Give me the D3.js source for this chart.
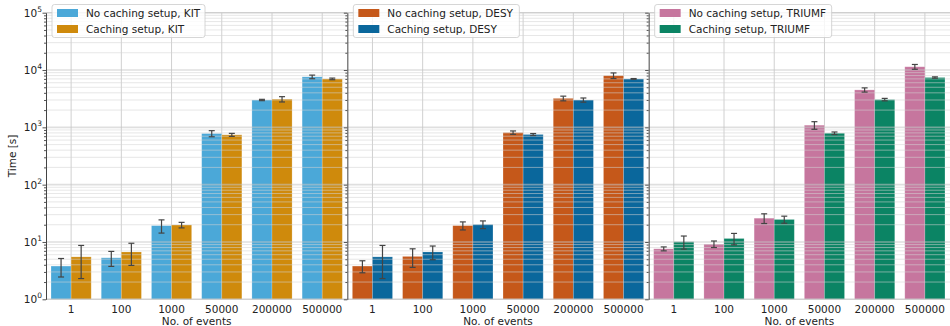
<!DOCTYPE html>
<html>
<head>
<meta charset="utf-8">
<script src="https://cdn.jsdelivr.net/npm/d3@7"></script>
<style>
  body { margin: 0; background: #fff; }
  text { font-family: "DejaVu Sans", sans-serif; fill: #222; }
</style>
</head>
<body>
<div id="chart"></div>
<script>
var w = 950;
var h = 326;
var padLeft = 46, yTop = 12.7, yBottom = 299.3;

//categories
var events = ["1", "100", "1000", "50000", "200000", "500000"];
var sites = ["KIT", "DESY", "TRIUMF"];

//mean times [s]
var kitNoCache   = [3.8, 5.3, 19.3, 780, 3000, 7600];
var kitNoCacheErr = [1.35, 1.55, 5.0, 95, 80, 550];
var kitCache     = [5.5, 6.7, 19.8, 740, 3100, 7000];
var kitCacheErr  = [3.2, 2.8, 2.2, 45, 330, 230];

var desyNoCache    = [3.8, 5.6, 19.3, 810, 3200, 8000];
var desyNoCacheErr = [0.9, 2.0, 3.1, 55, 300, 900];
var desyCache      = [5.5, 6.7, 20.2, 750, 3000, 7000];
var desyCacheErr   = [3.2, 1.8, 3.1, 30, 250, 100];

var triumfNoCache    = [7.6, 9.2, 26, 1090, 4500, 11400];
var triumfNoCacheErr = [0.6, 1.2, 5, 165, 380, 1100];
var triumfCache      = [10.1, 11.5, 24.7, 790, 3050, 7400];
var triumfCacheErr   = [2.6, 2.6, 3.5, 40, 150, 200];

var yTicks = [1, 10, 100, 1000, 10000, 100000];

//one panel per site
var panels = [
  {site: "KIT", series: [
    {label: "No caching setup, KIT", color: "#4ba8d8", vals: kitNoCache, errs: kitNoCacheErr},
    {label: "Caching setup, KIT", color: "#cf8a0c", vals: kitCache, errs: kitCacheErr}]},
  {site: "DESY", series: [
    {label: "No caching setup, DESY", color: "#c5581a", vals: desyNoCache, errs: desyNoCacheErr},
    {label: "Caching setup, DESY", color: "#0a679c", vals: desyCache, errs: desyCacheErr}]},
  {site: "TRIUMF", series: [
    {label: "No caching setup, TRIUMF", color: "#c6769e", vals: triumfNoCache, errs: triumfNoCacheErr},
    {label: "Caching setup, TRIUMF", color: "#0b8464", vals: triumfCache, errs: triumfCacheErr}]}
];

var pw = (w - padLeft) / 3;

var svg = d3.select("#chart").append("svg")
  .attr("width", w)
  .attr("height", h);

var yScale = d3.scaleLog().domain([1, 1e5]).range([yBottom, yTop]);
var allTicks = yScale.ticks();

var xScale = d3.scaleBand().domain(events).range([0, pw]).paddingInner(0.2).paddingOuter(0.1);
var x1 = d3.scaleBand().domain([0, 1]).range([0, xScale.bandwidth()]);

panels.forEach(function(p, pi) {
  var g = svg.append("g").attr("transform", "translate(" + (padLeft + pi * pw) + ",0)");

  //vertical grid
  g.selectAll(".vgrid").data(events).enter().append("line")
    .attr("x1", function(d) { return xScale(d) + xScale.bandwidth() / 2; })
    .attr("x2", function(d) { return xScale(d) + xScale.bandwidth() / 2; })
    .attr("y1", yTop).attr("y2", yBottom)
    .attr("stroke", "#d0d0d0").attr("stroke-width", 1);

  //bars
  p.series.forEach(function(s, si) {
    g.selectAll(".bar" + si).data(events).enter().append("rect")
      .attr("x", function(d) { return xScale(d) + x1(si); })
      .attr("y", function(d, i) { return yScale(s.vals[i]); })
      .attr("width", x1.bandwidth())
      .attr("height", function(d, i) { return yBottom - yScale(s.vals[i]); })
      .attr("fill", s.color)
      .attr("stroke", "#fff").attr("stroke-opacity", 0.25).attr("stroke-width", 0.8);
  });

  //horizontal grid on top of the bars
  g.selectAll(".hgrid").data(allTicks).enter().append("line")
    .attr("x1", 0).attr("x2", pw)
    .attr("y1", function(d) { return yScale(d); })
    .attr("y2", function(d) { return yScale(d); })
    .attr("stroke", function(d) { return yTicks.indexOf(d) >= 0 ? "#c4c4c4" : "#d4d4d4"; })
    .attr("stroke-opacity", 0.55)
    .attr("stroke-width", function(d) { return yTicks.indexOf(d) >= 0 ? 1.6 : 1; });

  //error bars
  p.series.forEach(function(s, si) {
    var eg = g.selectAll(".err" + si).data(events).enter().append("g")
      .attr("stroke", "#444").attr("stroke-width", 1.2);
    var cx = function(d) { return xScale(d) + x1(si) + x1.bandwidth() / 2; };
    eg.append("line")
      .attr("x1", cx).attr("x2", cx)
      .attr("y1", function(d, i) { return yScale(s.vals[i] + s.errs[i]); })
      .attr("y2", function(d, i) { return yScale(s.vals[i] - s.errs[i]); });
    [1, -1].forEach(function(sign) {
      eg.append("line")
        .attr("x1", function(d) { return cx(d) - 3; })
        .attr("x2", function(d) { return cx(d) + 3; })
        .attr("y1", function(d, i) { return yScale(s.vals[i] + sign * s.errs[i]); })
        .attr("y2", function(d, i) { return yScale(s.vals[i] + sign * s.errs[i]); });
    });
  });

  //frame
  g.append("line").attr("x1", 0).attr("x2", pw).attr("y1", yTop).attr("y2", yTop)
    .attr("stroke", "#ccc");
  g.append("line").attr("x1", 0).attr("x2", pw).attr("y1", yBottom).attr("y2", yBottom)
    .attr("stroke", "#ccc");

  //y ticks (minor + major), labels only on first panel
  var yAxis = d3.axisLeft(yScale).tickValues(allTicks).tickFormat("")
    .tickSize(2).tickSizeOuter(0);
  var ya = g.append("g").call(yAxis);
  ya.select(".domain").attr("stroke", "#444");
  ya.selectAll(".tick line").attr("stroke", "#555")
    .attr("x2", function(d) { return yTicks.indexOf(d) >= 0 ? -3.5 : -2; });

  if (pi == 0) {
    yTicks.forEach(function(t) {
      var lab = g.append("text")
        .attr("x", -4)
        .attr("y", yScale(t) + 4)
        .attr("text-anchor", "end")
        .attr("font-size", "10.5px");
      lab.append("tspan").text("10");
      lab.append("tspan").text(Math.round(Math.log10(t)))
        .attr("dy", -5).attr("font-size", "7.5px");
    });
  }

  //x tick labels
  g.selectAll(".xlab").data(events).enter().append("text")
    .text(function(d) { return d; })
    .attr("x", function(d) { return xScale(d) + xScale.bandwidth() / 2; })
    .attr("y", 313)
    .attr("text-anchor", "middle")
    .attr("font-size", "10.5px");

  g.append("text")
    .text("No. of events")
    .attr("x", pw / 2)
    .attr("y", 325)
    .attr("text-anchor", "middle")
    .attr("font-size", "10.5px");

  //legend
  var lx = 6, ly = 4.5;
  var lw = [153, 166, 177][pi];
  var lg = g.append("g").attr("transform", "translate(" + lx + "," + ly + ")");
  lg.append("rect")
    .attr("width", lw).attr("height", 33).attr("rx", 2.5)
    .attr("fill", "#fff").attr("fill-opacity", 0.8)
    .attr("stroke", "#ccc").attr("stroke-width", 0.8);
  p.series.forEach(function(s, si) {
    lg.append("rect")
      .attr("x", 5).attr("y", 4.5 + si * 16)
      .attr("width", 21).attr("height", 8)
      .attr("fill", s.color);
    lg.append("text")
      .text(s.label)
      .attr("x", 34)
      .attr("y", 12.5 + si * 16)
      .attr("font-size", "10.5px");
  });
});

//y label
svg.append("text")
  .text("Time [s]")
  .attr("transform", "translate(16," + ((yTop + yBottom) / 2) + ") rotate(-90)")
  .attr("text-anchor", "middle")
  .attr("font-size", "10.5px");
</script>
</body>
</html>
